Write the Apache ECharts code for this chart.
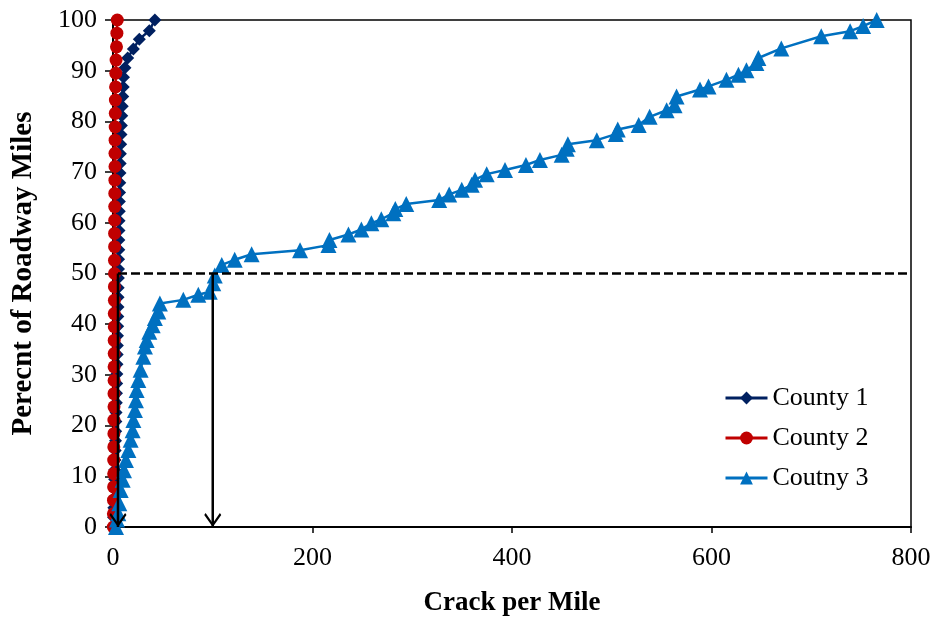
<!DOCTYPE html>
<html>
<head>
<meta charset="utf-8">
<script src="https://cdn.jsdelivr.net/npm/echarts@6/dist/echarts.min.js"></script>
<style>html,body{margin:0;padding:0;background:#fff;}#c{width:938px;height:618px;}</style>
</head>
<body>
<div id="c"></div>
<script>
const seriesNames = ['County 1', 'County 2', 'Coutny 3'];
const xTicks = [0, 200, 400, 600, 800];
const yTicks = [0, 10, 20, 30, 40, 50, 60, 70, 80, 90, 100];

const county1X = [0.2,0.5,0.8,1.0,1.3,1.6,1.8,2.0,2.2,2.5,2.7,2.9,3.1,3.3,3.5,3.7,3.9,4.0,4.2,4.4,4.5,4.7,4.8,5.0,5.1,5.2,5.4,5.5,5.6,5.8,5.9,6.0,6.1,6.3,6.4,6.6,6.8,7.0,7.2,7.4,7.7,8.0,8.4,8.8,9.3,9.8,10.3,10.5,12,14.7,20.4,26.4,36.4,42];
const county1Y = [0,1.9,3.8,5.7,7.5,9.4,11.3,13.2,15.1,17,18.9,20.8,22.6,24.5,26.4,28.3,30.2,32.1,34,35.8,37.7,39.6,41.5,43.4,45.3,47.2,49.1,50.9,52.8,54.7,56.6,58.5,60.4,62.3,64.2,66,67.9,69.8,71.7,73.6,75.5,77.4,79.2,81.1,83,84.9,86.8,88.7,90.6,92.5,94.3,96.2,97.9,100];

const county2X = [0.3,0.4,0.5,0.6,0.7,0.7,0.8,0.9,0.9,1.0,1.0,1.1,1.1,1.2,1.2,1.3,1.3,1.4,1.4,1.5,1.5,1.6,1.6,1.7,1.7,1.8,1.9,2.0,2.0,2.1,2.2,2.3,2.4,2.6,2.8,3.1,3.5,3.9,4.3];
const county2Y = [0,2.6,5.3,7.9,10.5,13.2,15.8,18.4,21.1,23.7,26.3,28.9,31.6,34.2,36.8,39.5,42.1,44.7,47.4,50,52.6,55.3,57.9,60.5,63.2,65.8,68.4,71.1,73.7,76.3,78.9,81.6,84.2,86.8,89.5,92.1,94.7,97.4,100];

const county3X = [3,4,5.3,6.3,7.7,9.7,11,13,15.4,17.7,19.7,20.4,22,23,23.7,25.4,27.7,30.4,32,33.8,36.4,39.8,42,45.4,47,70.5,85.5,97,100.5,102,109,122,139,187.5,216,217,236,249,259,269,281,283,294,327,337,349.6,359.6,363,374.6,393,414,428,449.8,454.8,456,485,504,506,527,538,555,563,565,588.5,597,615,627,635,645,647,670,710,739,752,765.6];
const county3Y = [0,1.5,2.7,4.7,7.3,9.3,11.2,13.2,15.2,17.2,19.1,21.1,23.1,25,27,29,31,33.6,35.6,36.9,38.5,39.8,41.2,42.5,44.1,44.8,45.8,46.4,48.1,49.6,51.7,52.7,53.8,54.6,55.6,56.6,57.7,58.7,59.9,60.7,61.9,62.7,63.7,64.5,65.6,66.5,67.5,68.5,69.6,70.4,71.4,72.4,73.4,74.6,75.5,76.3,77.5,78.4,79.3,80.9,82.2,83.2,84.9,86.3,86.9,88.2,89.2,90.1,91.5,92.5,94.4,96.8,97.8,98.8,100];

const dashX = [5, 800];
const dashY = [50, 50];
const arrow1X = [5, 5];
const arrow2X = [100, 100];
const arrowY = [50, 0];

const colors = ['#002060', '#C00000', '#0070C0'];
const FONT = "'Liberation Serif', 'Times New Roman', serif";

function pairs(xs, ys) { return xs.map((x, i) => [x, ys[i]]); }

const arrowPath = 'path://M0,1.6 L1.6,0 L10,8.4 L18.4,0 L20,1.6 L10,11.6 Z';
function arrowData(xs, ys) {
  return xs.map((x, i) => i === xs.length - 1
    ? { value: [x, ys[i]], symbol: arrowPath, symbolSize: [17, 14], symbolOffset: [0, -7] }
    : { value: [x, ys[i]], symbol: 'none' });
}

const chart = echarts.init(document.getElementById('c'), null, { renderer: 'canvas' });
chart.setOption({
  animation: false,
  backgroundColor: '#fff',
  grid: { left: 113, right: 27, top: 20, bottom: 91, show: true, borderColor: '#000', borderWidth: 1.5,
    backgroundColor: 'transparent', containLabel: false, outerBoundsMode: 'none' },
  legend: {
    data: seriesNames,
    orient: 'vertical',
    left: 719,
    top: 380,
    itemGap: 14,
    itemWidth: 42,
    itemHeight: 16,
    lineStyle: { width: 3 },
    textStyle: { fontFamily: FONT, fontSize: 26, color: '#000' }
  },
  xAxis: {
    type: 'value', min: xTicks[0], max: xTicks[xTicks.length - 1], interval: 200,
    name: 'Crack per Mile', nameLocation: 'middle', nameGap: 63,
    nameTextStyle: { fontFamily: FONT, fontSize: 27, fontWeight: 'bold', color: '#000' },
    axisLine: { lineStyle: { color: '#000', width: 2 } },
    axisTick: { show: true, length: 6, lineStyle: { color: '#000', width: 1.5 } },
    axisLabel: { fontFamily: FONT, fontSize: 26, color: '#000', margin: 18 },
    splitLine: { show: false }
  },
  yAxis: {
    type: 'value', min: yTicks[0], max: yTicks[yTicks.length - 1], interval: 10,
    name: 'Perecnt of Roadway Miles', nameLocation: 'middle', nameGap: 75,
    nameTextStyle: { fontFamily: FONT, fontSize: 29, fontWeight: 'bold', color: '#000' },
    axisLine: { lineStyle: { color: '#000', width: 2 } },
    axisTick: { show: true, length: 8, lineStyle: { color: '#000', width: 1.5 } },
    axisLabel: { fontFamily: FONT, fontSize: 26, color: '#000', margin: 16 },
    splitLine: { show: false }
  },
  series: [
    { name: seriesNames[0], type: 'line', data: pairs(county1X, county1Y), symbol: 'diamond', symbolSize: 13,
      itemStyle: { color: colors[0] }, lineStyle: { color: colors[0], width: 2.5 }, z: 2 },
    { name: seriesNames[1], type: 'line', data: pairs(county2X, county2Y), symbol: 'circle', symbolSize: 13,
      itemStyle: { color: colors[1] }, lineStyle: { color: colors[1], width: 2.5 }, z: 3 },
    { name: seriesNames[2], type: 'line', data: pairs(county3X, county3Y), symbol: 'triangle', symbolSize: 16,
      itemStyle: { color: colors[2] }, lineStyle: { color: colors[2], width: 2.5 }, z: 4 },
    { name: 'dash', type: 'line', data: pairs(dashX, dashY), symbol: 'none', silent: true,
      lineStyle: { color: '#000', width: 2.5, type: [9, 4] }, z: 5 },
    { name: 'arrow1', type: 'line', data: arrowData(arrow1X, arrowY), silent: true,
      itemStyle: { color: '#000' }, lineStyle: { color: '#000', width: 2.5 }, z: 6 },
    { name: 'arrow2', type: 'line', data: arrowData(arrow2X, arrowY), silent: true,
      itemStyle: { color: '#000' }, lineStyle: { color: '#000', width: 2.5 }, z: 6 }
  ]
});
</script>
</body>
</html>
